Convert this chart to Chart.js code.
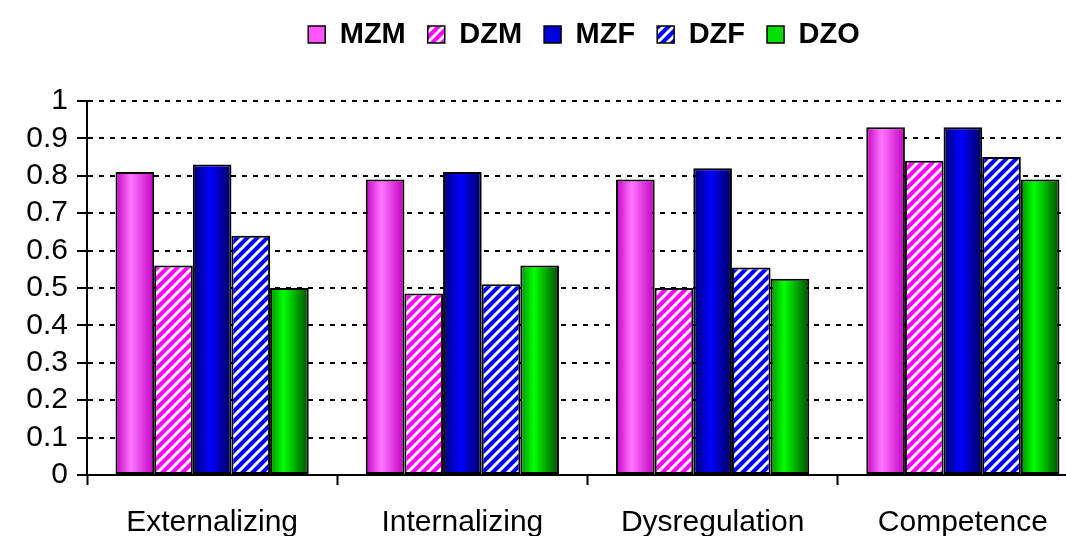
<!DOCTYPE html>
<html><head><meta charset="utf-8">
<script src="https://cdn.jsdelivr.net/npm/chart.js@4.4.1/dist/chart.umd.min.js"></script>
<style>
html,body{margin:0;padding:0;background:#fff;overflow:hidden;width:1066px;height:536px}
#wrap{position:absolute;left:0;top:0;width:1088px;height:536px}
</style>
</head><body><div id="wrap"><canvas id="c" width="1088" height="536"></canvas></div>
<script>
const CATEGORIES = ['Externalizing', 'Internalizing', 'Dysregulation', 'Competence'];
const SERIES_NAMES = ['MZM', 'DZM', 'MZF', 'DZF', 'DZO'];
const MZM = [0.81, 0.79, 0.79, 0.93];
const DZM = [0.56, 0.485, 0.50, 0.84];
const MZF = [0.83, 0.81, 0.82, 0.93];
const DZF = [0.64, 0.51, 0.555, 0.85];
const DZO = [0.50, 0.56, 0.525, 0.79];
const Y_TICK_LABELS = ['0', '0.1', '0.2', '0.3', '0.4', '0.5', '0.6', '0.7', '0.8', '0.9', '1'];

const FONT = '"Liberation Sans", Arial, Helvetica, sans-serif';
const canvas = document.getElementById('c');
const mainCtx = canvas.getContext('2d');

function stripePattern(base) {
  const n = 10;
  const t = document.createElement('canvas');
  t.width = n; t.height = n;
  const g = t.getContext('2d');
  g.fillStyle = base; g.fillRect(0, 0, n, n);
  g.strokeStyle = '#fff'; g.lineWidth = 3; g.lineCap = 'square';
  g.beginPath();
  g.moveTo(-2, n + 2); g.lineTo(n + 2, -2);
  g.moveTo(-2, 2); g.lineTo(2, -2);
  g.moveTo(n - 2, n + 2); g.lineTo(n + 2, n - 2);
  g.stroke();
  return mainCtx.createPattern(t, 'repeat');
}
const DZM_PATTERN = stripePattern('#ff00ff');
const DZF_PATTERN = stripePattern('#0000ff');

const GRADIENTS = {
  0: [[0, '#c400c4'], [0.4, '#ff77ff'], [1, '#c000c0']],
  2: [[0, '#000070'], [0.45, '#0000ff'], [1, '#000058']],
  4: [[0, '#009000'], [0.35, '#00ff00'], [1, '#004c00']]
};
const LEGEND_FILLS = ['#ff55ff', DZM_PATTERN, '#0000dd', DZF_PATTERN, '#00e000'];

const gradientPlugin = {
  id: 'barGradient',
  afterDatasetsUpdate(chart) {
    const ctx = chart.ctx;
    chart.data.datasets.forEach((ds, di) => {
      const stops = GRADIENTS[di];
      if (!stops) return;
      chart.getDatasetMeta(di).data.forEach(el => {
        const l = el.x - el.width / 2, r = el.x + el.width / 2;
        const g = ctx.createLinearGradient(l, 0, r, 0);
        stops.forEach(s => g.addColorStop(s[0], s[1]));
        el.options = Object.assign({}, el.options, { backgroundColor: g });
      });
    });
  }
};

const layoutPlugin = {
  id: 'layoutFix',
  beforeLayout(chart) {
    const lg = chart.legend;
    if (lg && !lg.__fixed) {
      const orig = lg.fit;
      lg.fit = function () { orig.call(this); this.height = 101; };
      lg.__fixed = true;
    }
  },
  afterLayout(chart) {
    const lg = chart.legend;
    if (lg) { lg.left += 40; lg.right += 40; lg.top -= 2; lg.bottom -= 2; }
  }
};

const datasets = [MZM, DZM, MZF, DZF, DZO].map((vals, i) => ({
  label: SERIES_NAMES[i],
  data: vals,
  backgroundColor: [ '#ff66ff', DZM_PATTERN, '#0000ff', DZF_PATTERN, '#00ff00' ][i],
  borderColor: '#000',
  borderWidth: 2,
  borderSkipped: false,
  barPercentage: 1,
  categoryPercentage: 0.772
}));

new Chart(canvas, {
  type: 'bar',
  data: { labels: CATEGORIES, datasets },
  plugins: [gradientPlugin, layoutPlugin],
  options: {
    responsive: false,
    animation: false,
    events: [],
    layout: { padding: 0 },
    plugins: {
      tooltip: { enabled: false },
      legend: {
        position: 'top',
        labels: {
          font: { family: FONT, size: 29, weight: 'bold' },
          color: '#000',
          boxWidth: 17,
          boxHeight: 17,
          padding: 22,
          generateLabels(chart) {
            return chart.data.datasets.map((ds, i) => ({
              text: ds.label,
              fillStyle: LEGEND_FILLS[i],
              strokeStyle: '#000',
              lineWidth: 1.5,
              hidden: false,
              datasetIndex: i,
              fontColor: '#000'
            }));
          }
        }
      }
    },
    scales: {
      x: {
        grid: { display: true, drawOnChartArea: false, drawTicks: true, tickLength: 10, tickWidth: 2, tickColor: '#000', offset: true },
        border: { display: true, color: '#000', width: 2 },
        ticks: { font: { family: FONT, size: 30 }, color: '#000', padding: 20, maxRotation: 0, autoSkip: false },
        afterFit(s) { s.height = 61; }
      },
      y: {
        min: 0, max: 1,
        ticks: { stepSize: 0.1, autoSkip: false, font: { family: FONT, size: 30 }, color: '#000', padding: 9,
          callback: (v, i) => Y_TICK_LABELS[i] },
        grid: { color: '#000', lineWidth: 2, tickLength: 10, tickWidth: 2, tickColor: '#000', tickBorderDash: [] },
        border: { display: true, color: '#000', width: 2, dash: [5, 6] },
        afterFit(s) { s.width = 87; }
      }
    }
  }
});
</script>
</body></html>
